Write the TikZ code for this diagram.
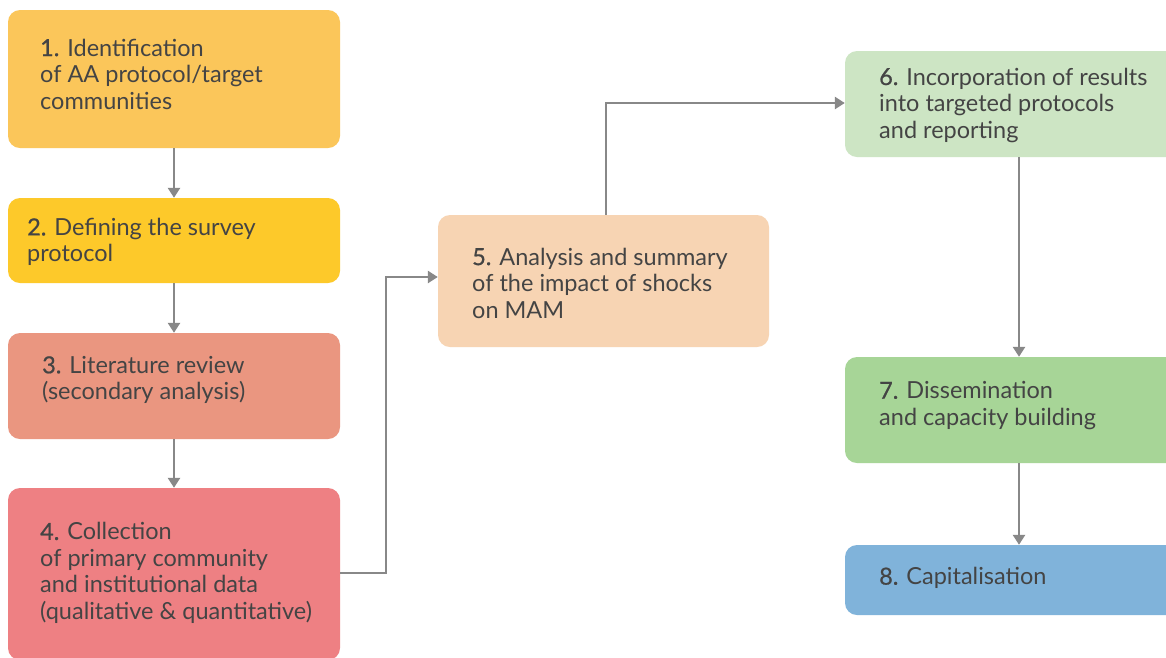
\documentclass[tikz,border=0pt]{standalone}
\usepackage{fontspec}
\setmainfont{Lato}
\newfontfamily\numfont{Lato}[FakeBold=0.7]
\usetikzlibrary{arrows.meta}
\definecolor{cA}{HTML}{FBC65A}
\definecolor{cB}{HTML}{FDC92A}
\definecolor{cC}{HTML}{EA9680}
\definecolor{cD}{HTML}{EE8083}
\definecolor{cE}{HTML}{F7D4B3}
\definecolor{cF}{HTML}{CDE5C4}
\definecolor{cG}{HTML}{A7D597}
\definecolor{cH}{HTML}{80B3DA}
\definecolor{txt}{HTML}{444444}
\definecolor{arr}{HTML}{888888}
\tikzset{
  box/.style={rectangle, rounded corners=12pt, draw=none, inner sep=0pt},
  lbl/.style={anchor=west, align=left, inner sep=0pt, text=txt,
    font=\fontsize{23.5}{26.5}\selectfont},
  conn/.style={draw=arr, line width=2.7pt, -{Triangle[length=10pt,width=12pt]}},
}
\newcommand{\nm}[1]{{\numfont #1}}
\begin{document}
\begin{tikzpicture}[x=1pt,y=-1pt]
\useasboundingbox (0,0) rectangle (1166,657);
\clip (0,0) rectangle (1166,657);
\fill[white] (0,0) rectangle (1166,657);
% boxes
\node[box, fill=cA, minimum width=332pt, minimum height=138pt] (b1) at (174,79) {};
\node[box, fill=cB, minimum width=332pt, minimum height=85pt] (b2) at (174,240.5) {};
\node[box, fill=cC, minimum width=332pt, minimum height=106pt] (b3) at (174,386) {};
\node[box, fill=cD, minimum width=332pt, minimum height=172pt] (b4) at (174,574) {};
\node[box, fill=cE, minimum width=331pt, minimum height=132pt] (b5) at (603.5,281) {};
\node[box, fill=cF, minimum width=335pt, minimum height=106pt] (b6) at (1012.5,104) {};
\node[box, fill=cG, minimum width=335pt, minimum height=106pt] (b7) at (1012.5,410) {};
\node[box, fill=cH, minimum width=335pt, minimum height=70pt] (b8) at (1012.5,580) {};
% labels
\node[lbl] (t1) at (40,74) {\nm{1.} Identification\\of AA protocol/target\\communities};
\node[lbl] (t2) at (27,242) {\nm{2.} Defining the survey\\protocol};
\node[lbl] (t3) at (42,380) {\nm{3.} Literature review\\(secondary analysis)};
\node[lbl] (t4) at (40,573) {\nm{4.} Collection\\of primary community\\and institutional data\\(qualitative \& quantitative)};
\node[lbl] (t5) at (472,283) {\nm{5.} Analysis and summary\\of the impact of shocks\\on MAM};
\node[lbl] (t6) at (879,105) {\nm{6.} Incorporation of results\\into targeted protocols\\and reporting};
\node[lbl] (t7) at (879,405.5) {\nm{7.} Dissemination\\and capacity building};
\node[lbl] (t8) at (879,578) {\nm{8.} Capitalisation};
% connectors
\coordinate (p45a) at (386,573);
\coordinate (p45b) at (386,277);
\coordinate (p56a) at (606,103);
\draw[conn] (b1.south) -- (b2.north);
\draw[conn] (b2.south) -- (b3.north);
\draw[conn] (b3.south) -- (b4.north);
\draw[conn] (b4.east |- p45a) -- (p45a) -- (p45b) -- (b5.west |- p45b);
\draw[conn] (b5.north -| p56a) -- (p56a) -- (b6.west |- p56a);
\draw[conn] (b6.south -| 1019,0) -- (b7.north -| 1019,0);
\draw[conn] (b7.south -| 1019,0) -- (b8.north -| 1019,0);
\end{tikzpicture}
\end{document}
